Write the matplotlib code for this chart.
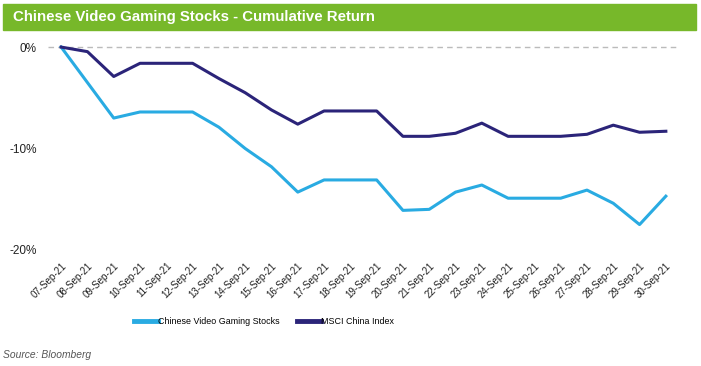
import matplotlib.pyplot as plt
import matplotlib.patches as patches

plt.rcParams['font.family'] = ['Liberation Sans', 'DejaVu Sans']

dates = ['07-Sep-21', '08-Sep-21', '09-Sep-21', '10-Sep-21', '11-Sep-21', '12-Sep-21',
         '13-Sep-21', '14-Sep-21', '15-Sep-21', '16-Sep-21', '17-Sep-21', '18-Sep-21',
         '19-Sep-21', '20-Sep-21', '21-Sep-21', '22-Sep-21', '23-Sep-21', '24-Sep-21',
         '25-Sep-21', '26-Sep-21', '27-Sep-21', '28-Sep-21', '29-Sep-21', '30-Sep-21']

gaming = [0.0, -3.5, -7.0, -6.4, -6.4, -6.4, -7.9, -10.0, -11.8, -14.3, -13.1, -13.1,
          -13.1, -16.1, -16.0, -14.3, -13.6, -14.9, -14.9, -14.9, -14.1, -15.4, -17.5, -14.7]

msci = [0.0, -0.45, -2.9, -1.6, -1.6, -1.6, -3.1, -4.5, -6.2, -7.6, -6.3, -6.3,
        -6.3, -8.8, -8.8, -8.5, -7.5, -8.8, -8.8, -8.8, -8.6, -7.7, -8.4, -8.3]

light = '#29ABE2'
dark = '#2B2479'
green = '#77B82A'

fig = plt.figure(figsize=(7.01, 3.66), dpi=100)

# title bar
fig.patches.append(patches.Rectangle((3 / 701, 1 - 30 / 366), 693 / 701, 26 / 366,
                                     transform=fig.transFigure, color=green, zorder=0))
fig.text(13 / 701, 1 - 17 / 366, 'Chinese Video Gaming Stocks - Cumulative Return',
         color='white', fontsize=10.8, fontweight='bold', va='center', ha='left')

ax = fig.add_axes([48 / 701, 1 - 255 / 366, 631 / 701, 213 / 366])
x = list(range(len(dates)))
ax.axhline(0, color='#BBBBBB', lw=1, ls=(0, (4, 3)), zorder=1)
ax.plot(x, gaming, color=light, lw=2.2, label='Chinese Video Gaming Stocks', zorder=3)
ax.plot(x, msci, color=dark, lw=2.2, label='MSCI China Index', zorder=3)

ax.set_xlim(-0.5, len(dates) - 0.5)
ax.set_ylim(-20.5, 0.5)
ax.set_yticks([0, -10, -20])
ax.set_yticklabels(['0%', '-10%', '-20%'], fontsize=8.5, color='#222222')
ax.set_xticks(x)
ax.set_xticklabels(dates, rotation=45, ha='right', rotation_mode='anchor',
                   fontsize=7, color='#222222')
ax.tick_params(length=0, pad=4)
ax.tick_params(axis='y', pad=8)
for s in ax.spines.values():
    s.set_visible(False)

leg = fig.legend(loc='center', bbox_to_anchor=(264 / 701, 1 - 322 / 366), ncol=2,
                 frameon=False, fontsize=6.4, handlelength=2.7, handletextpad=0.05,
                 columnspacing=1.9)
for line in leg.get_lines():
    line.set_linewidth(3.5)

fig.text(3 / 701, 1 - 355 / 366, 'Source: Bloomberg', fontsize=7.4, style='italic',
         color='#555555', va='center', ha='left')

fig.savefig('out.png', dpi=100)
